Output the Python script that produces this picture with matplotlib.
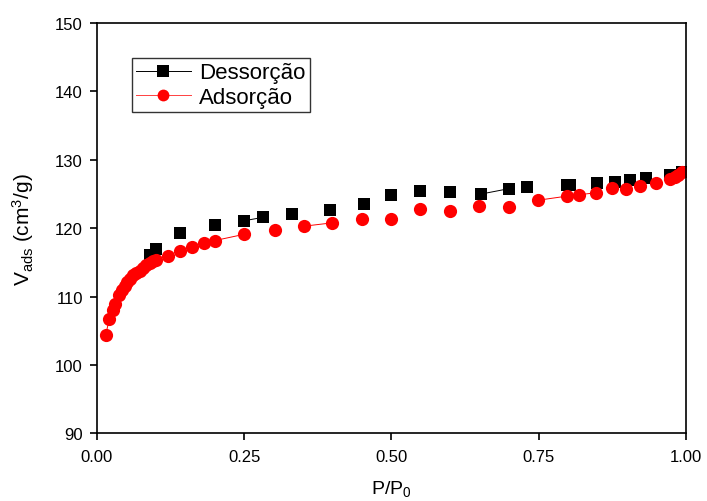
import matplotlib
matplotlib.use("Agg")
import matplotlib.pyplot as plt
from matplotlib.lines import Line2D

plt.rcParams['font.family'] = ['Liberation Sans', 'DejaVu Sans']
plt.rcParams['mathtext.fontset'] = 'custom'
plt.rcParams['mathtext.rm'] = 'Liberation Sans'
plt.rcParams['mathtext.it'] = 'Liberation Sans'

# adsorption branch (red circles)
ads_p = [0.015, 0.021, 0.027, 0.031, 0.037, 0.043, 0.048, 0.052, 0.057, 0.062, 0.067,
         0.073, 0.078, 0.084, 0.090, 0.096, 0.101, 0.12, 0.141, 0.162, 0.182, 0.20,
         0.249, 0.302, 0.351, 0.40, 0.45, 0.50, 0.549, 0.60, 0.649, 0.70, 0.749,
         0.798, 0.818, 0.848, 0.874, 0.898, 0.922, 0.949, 0.973, 0.981, 0.987, 0.993]
ads_v = [104.4, 106.7, 108.1, 109.0, 110.2, 111.0, 111.6, 112.1, 112.6, 113.1, 113.5,
         113.8, 114.2, 114.6, 114.9, 115.2, 115.4, 116.0, 116.7, 117.2, 117.8, 118.2,
         119.1, 119.7, 120.3, 120.8, 121.3, 121.3, 122.8, 122.5, 123.2, 123.1, 124.1,
         124.7, 124.9, 125.2, 125.9, 125.8, 126.2, 126.6, 127.2, 127.5, 127.8, 128.2]

# desorption branch (black squares)
des_p = [0.993, 0.973, 0.932, 0.905, 0.88, 0.85, 0.804, 0.798, 0.731, 0.70, 0.652,
         0.599, 0.549, 0.50, 0.453, 0.396, 0.332, 0.282, 0.25, 0.20, 0.141, 0.101, 0.09]
des_v = [128.2, 127.8, 127.3, 127.0, 126.8, 126.6, 126.4, 126.4, 126.1, 125.8, 125.0,
         125.3, 125.4, 124.9, 123.5, 122.7, 122.1, 121.6, 121.1, 120.5, 119.3, 116.9, 116.1]

# connecting segments that are actually drawn in the original (index pairs)
ads_links = [(0, 1), (21, 22), (24, 25), (32, 33), (33, 34), (34, 35)]
des_links = [(17, 18), (9, 10)]

fig = plt.figure(figsize=(7.07, 5.02), dpi=100)
ax = fig.add_axes([0.137, 0.1345, 0.833, 0.8175])

for i, j in des_links:
    ax.plot([des_p[i], des_p[j]], [des_v[i], des_v[j]], color='black', lw=0.7)
for i, j in ads_links:
    ax.plot([ads_p[i], ads_p[j]], [ads_v[i], ads_v[j]], color='red', lw=0.7)

ax.plot(des_p, des_v, ls='none', marker='s', ms=8, color='black', markeredgewidth=0)
ax.plot(ads_p, ads_v, ls='none', marker='o', ms=9.5, color='red', markeredgewidth=0)

ax.set_xlim(0, 1.0)
ax.set_ylim(90, 150)
ax.set_xticks([0, 0.25, 0.5, 0.75, 1.0])
ax.set_xticklabels(['0.00', '0.25', '0.50', '0.75', '1.00'])
ax.set_yticks(range(90, 151, 10))
ax.tick_params(direction='out', length=5, width=1.2, labelsize=12)
ax.tick_params(axis='x', pad=6)
ax.tick_params(axis='y', pad=5)
for s in ax.spines.values():
    s.set_linewidth(1.2)

ax.set_xlabel(r'P/P$_{\mathregular{0}}$', fontsize=14, labelpad=10)
ax.set_ylabel(r'V$_{\mathregular{ads}}$ (cm$^{\mathregular{3}}$/g)', fontsize=15, labelpad=14)

handles = [Line2D([], [], color='black', lw=0.7, marker='s', ms=8, markeredgewidth=0),
           Line2D([], [], color='#ff4040', lw=0.7, marker='o', ms=8.5, markerfacecolor='red',
                  markeredgewidth=0)]
leg = ax.legend(handles, ['Dessorção', 'Adsorção'], loc='upper left',
                bbox_to_anchor=(0.059, 0.914), fontsize=16,
                frameon=True, fancybox=False, edgecolor='black', handlelength=2.5,
                borderpad=0.18, labelspacing=0.17, handletextpad=0.36, borderaxespad=0)
leg.get_frame().set_linewidth(1.0)

fig.savefig('out.png', dpi=100)
